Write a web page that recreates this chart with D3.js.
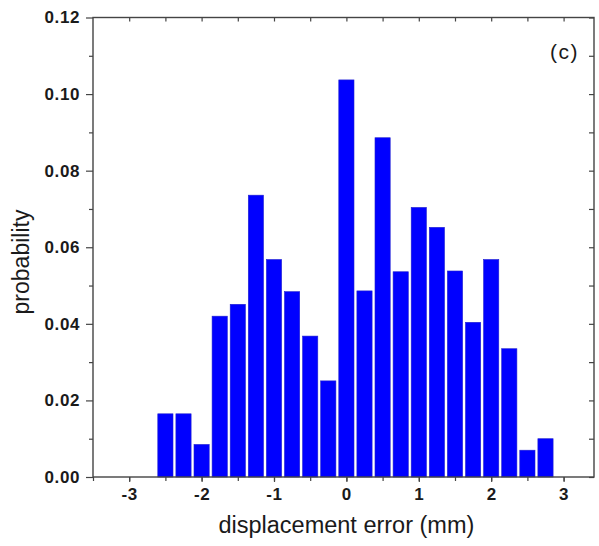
<!DOCTYPE html>
<html>
<head>
<meta charset="utf-8">
<script src="https://cdn.jsdelivr.net/npm/d3@7"></script>
<style>
  body { margin: 0; background: #fff; }
  svg { display: block; font-family: 'Liberation Sans', Arial, sans-serif; }
  .tick text { font-weight: bold; font-size: 17px; fill: #1a1a1a; letter-spacing: 0.6px; }
</style>
</head>
<body>
<div id="chart"></div>
<script>
// bin centres (mm) and probabilities
const binCenters = [-2.5, -2.25, -2.0, -1.75, -1.5, -1.25, -1.0, -0.75, -0.5, -0.25,
  0.0, 0.25, 0.5, 0.75, 1.0, 1.25, 1.5, 1.75, 2.0, 2.25, 2.5, 2.75]
const probability = [0.0165, 0.0165, 0.0085, 0.0420, 0.0451, 0.0736, 0.0568, 0.0484, 0.0368, 0.0251,
  0.1037, 0.0486, 0.0886, 0.0536, 0.0704, 0.0652, 0.0538, 0.0404, 0.0568, 0.0335, 0.0070, 0.0100]
const xTicks = [-3, -2, -1, 0, 1, 2, 3]
const xMinor = [-3.5, -3, -2.5, -2, -1.5, -1, -0.5, 0, 0.5, 1, 1.5, 2, 2.5, 3]
const yTicks = [0.00, 0.02, 0.04, 0.06, 0.08, 0.10, 0.12]
const yMinor = [0.01, 0.03, 0.05, 0.07, 0.09, 0.11]
const binWidth = 0.25

const width = 599
const height = 546
const margin = {top: 17.5, right: 5, bottom: 69, left: 93}
const axisColor = '#444'

const x = d3.scaleLinear()
  .domain([-3.5, 3.42])
  .range([margin.left, width - margin.right])

const y = d3.scaleLinear()
  .domain([0, 0.12])
  .range([height - margin.bottom, margin.top])

const svg = d3.select('#chart').append('svg')
  .attr('width', width)
  .attr('height', height)

// bars
svg.append('g')
  .selectAll('rect')
  .data(binCenters.map((c, i) => ({c, v: probability[i]})))
  .join('rect')
  .attr('x', d => x(d.c - binWidth * 0.42))
  .attr('width', d => x(d.c + binWidth * 0.42) - x(d.c - binWidth * 0.42))
  .attr('y', d => y(d.v))
  .attr('height', d => y(0) - y(d.v))
  .attr('fill', '#0000ff')
  .attr('stroke', '#2020d0')
  .attr('stroke-width', 0.6)

const styleAxis = g => {
  g.selectAll('.domain').remove()
  g.selectAll('.tick line').attr('stroke', axisColor).attr('stroke-width', 1.2)
}

// hyphen instead of the unicode minus, as in the original
const fmtX = d => String(d)
const fmtY = d => d.toFixed(2)

// minor ticks
svg.append('g')
  .attr('transform', `translate(0,${y(0)})`)
  .call(d3.axisBottom(x).tickValues(xMinor).tickSize(4).tickFormat(''))
  .call(styleAxis)
svg.append('g')
  .attr('transform', `translate(${margin.left},0)`)
  .call(d3.axisLeft(y).tickValues(yMinor).tickSize(4).tickFormat(''))
  .call(styleAxis)

// major ticks + labels
svg.append('g')
  .attr('transform', `translate(0,${y(0)})`)
  .call(d3.axisBottom(x).tickValues(xTicks).tickSize(5).tickPadding(5).tickFormat(fmtX))
  .call(styleAxis)
  .call(g => g.selectAll('.tick text').attr('dy', '0.75em'))
svg.append('g')
  .attr('transform', `translate(${margin.left},0)`)
  .call(d3.axisLeft(y).tickValues(yTicks).tickSize(7).tickPadding(6).tickFormat(fmtY))
  .call(styleAxis)

// mirrored ticks, pointing inward
svg.append('g')
  .attr('transform', `translate(0,${margin.top})`)
  .call(d3.axisBottom(x).tickValues(xMinor.filter(v => v > -3.5)).tickSize(4).tickFormat(''))
  .call(styleAxis)
svg.append('g')
  .attr('transform', `translate(${width - margin.right},0)`)
  .call(d3.axisLeft(y).tickValues(yMinor.concat(yTicks)).tickSize(5).tickFormat(''))
  .call(styleAxis)

// frame
svg.append('rect')
  .attr('x', margin.left)
  .attr('y', margin.top)
  .attr('width', width - margin.right - margin.left)
  .attr('height', y(0) - margin.top)
  .attr('fill', 'none')
  .attr('stroke', axisColor)
  .attr('stroke-width', 1.4)

// titles
svg.append('text')
  .attr('x', x(0))
  .attr('y', 533)
  .attr('text-anchor', 'middle')
  .attr('font-size', 23.5)
  .attr('fill', '#1a1a1a')
  .text('displacement error (mm)')

svg.append('text')
  .attr('transform', `translate(29,${262}) rotate(-90)`)
  .attr('text-anchor', 'middle')
  .attr('font-size', 23)
  .attr('fill', '#1a1a1a')
  .text('probability')

svg.append('text')
  .attr('x', 579)
  .attr('y', 59)
  .attr('text-anchor', 'end')
  .attr('font-size', 21)
  .attr('letter-spacing', 1.5)
  .attr('fill', '#1a1a1a')
  .text('(c)')
</script>
</body>
</html>
